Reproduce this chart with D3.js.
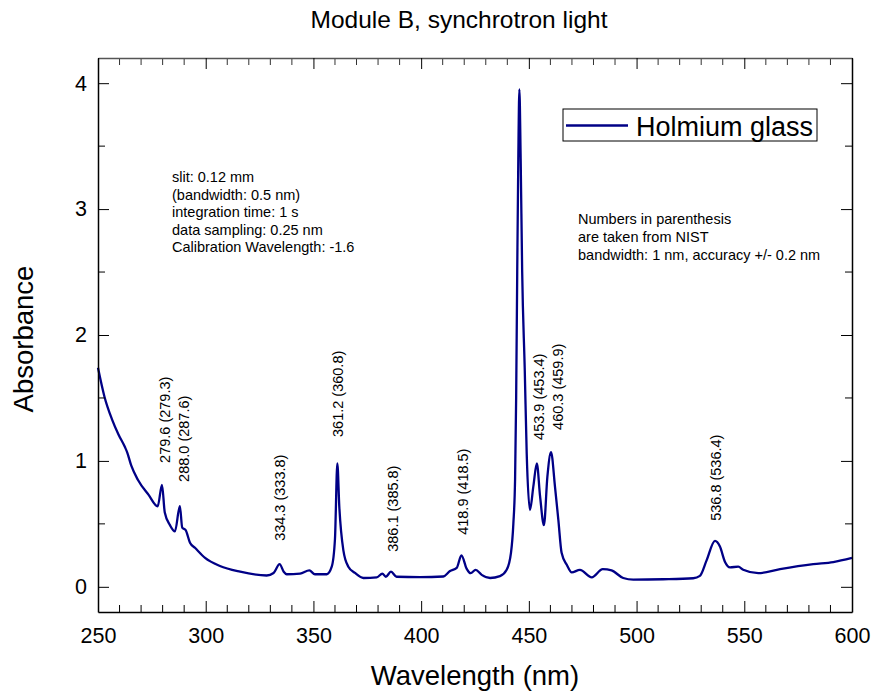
<!DOCTYPE html>
<html>
<head>
<meta charset="utf-8">
<script src="https://cdn.jsdelivr.net/npm/d3@7"></script>
<style>
  body { margin: 0; background: #fff; }
  text { font-family: "Liberation Sans", Arial, sans-serif; }
</style>
</head>
<body>
<script>
// spectrum
var wavelength = [250, 253, 256.5, 259.5, 262.5, 263.5, 265.5, 268.5, 273.5, 277.7,
  279.7, 281, 283.4, 285.7, 288, 289.1, 290.7, 292.7, 295, 299.7,
  306.6, 316, 328.3, 331.5, 334.3, 336.2, 337.6, 343.8, 348.1, 350.7,
  356.2, 358.5, 360, 361.1, 362, 363.9, 366.2, 369.3, 373.2, 379.4,
  382, 383.6, 386, 388.6, 399.5, 410.3, 413.4, 416.5, 418.7, 421.1,
  423, 425.3, 428.1, 432, 436.6, 439.7, 441.7, 442.8, 443.6, 444.1,
  444.6, 445.1, 445.6, 446.2, 446.9, 448.1, 449, 450.5, 452.1, 453.7,
  455.2, 457, 458.6, 460.3, 462.1, 463.7, 465.2, 467.6, 469.9, 473.7,
  479.2, 484.3, 488.4, 493.8, 498.5, 512.4, 526.3, 529.4, 532.5, 536.4,
  538.7, 541, 543.4, 547.2, 549.5, 556.5, 566.6, 582, 591.3, 600];
var absorbance = [1.74, 1.51, 1.33, 1.21, 1.11, 1.07, 0.96, 0.85, 0.73, 0.64,
  0.81, 0.59, 0.49, 0.44, 0.64, 0.47, 0.45, 0.35, 0.31, 0.23,
  0.165, 0.12, 0.09, 0.11, 0.18, 0.12, 0.10, 0.105, 0.13, 0.10,
  0.10, 0.16, 0.38, 0.98, 0.64, 0.29, 0.16, 0.11, 0.07, 0.075,
  0.105, 0.08, 0.12, 0.08, 0.077, 0.082, 0.125, 0.15, 0.25, 0.145,
  0.108, 0.135, 0.095, 0.07, 0.085, 0.135, 0.27, 0.5, 0.85, 1.5,
  2.5, 3.4, 3.95, 3.4, 2.5, 1.72, 1.06, 0.61, 0.80, 0.98,
  0.72, 0.49, 0.875, 1.07, 0.80, 0.53, 0.27, 0.175, 0.114, 0.135,
  0.075, 0.14, 0.13, 0.07, 0.057, 0.06, 0.068, 0.087, 0.21, 0.365,
  0.32, 0.2, 0.155, 0.16, 0.135, 0.108, 0.14, 0.18, 0.197, 0.23];

var xTicks = [250, 300, 350, 400, 450, 500, 550, 600];
var yTicks = [0, 1, 2, 3, 4];

// peak labels: text, anchor wavelength, anchor absorbance (bottom of rotated text)
var peakLabels = ["279.6 (279.3)", "288.0 (287.6)", "334.3 (333.8)", "361.2 (360.8)",
  "386.1 (385.8)", "418.9 (418.5)", "453.9 (453.4)", "460.3 (459.9)", "536.8 (536.4)"];
var peakLabelX = [281.1, 289.9, 334.5, 361.4, 386.9, 419.4, 454.7, 463.5, 536.9];
var peakLabelY = [0.984, 0.833, 0.365, 1.19, 0.278, 0.413, 1.167, 1.246, 0.524];

var infoLines = ["slit: 0.12 mm", "(bandwidth: 0.5 nm)", "integration time: 1 s",
  "data sampling: 0.25 nm", "Calibration Wavelength: -1.6"];
var nistLines = ["Numbers in parenthesis", "are taken from NIST",
  "bandwidth: 1 nm, accuracy +/- 0.2 nm"];

var w = 872, h = 694;
var plotL = 98, plotR = 852, plotT = 58, plotB = 612;
var lineColor = "#000086";

var svg = d3.select("body").append("svg")
  .attr("width", w)
  .attr("height", h);

var x = d3.scaleLinear().domain([250, 600]).range([plotL, plotR]);
var y = d3.scaleLinear().domain([-0.2, 4.2]).range([plotB, plotT]);

var data = wavelength.map(function(d, i) { return [d, absorbance[i]]; });

// curve
var line = d3.line()
  .x(function(d) { return x(d[0]); })
  .y(function(d) { return y(d[1]); })
  .curve(d3.curveMonotoneX);

svg.append("path")
  .datum(data)
  .attr("d", line)
  .attr("fill", "none")
  .attr("stroke", lineColor)
  .attr("stroke-width", 2.3)
  .attr("stroke-linejoin", "round");

// axes: ticks point inward
var xMinor = d3.range(260, 600, 10).filter(function(d) { return d % 50 != 0; });
var yMinor = [0.5, 1.5, 2.5, 3.5];

function fixText(g) {
  g.selectAll("text").attr("font-size", "21.5px").attr("fill", "#000")
    .attr("font-family", "Liberation Sans, Arial, sans-serif");
}

var gBottom = svg.append("g").attr("transform", "translate(0," + plotB + ")");
gBottom.selectAll("line.minor").data(xMinor).enter().append("line")
  .attr("class", "minor")
  .attr("x1", function(d) { return x(d); }).attr("x2", function(d) { return x(d); })
  .attr("y1", 0).attr("y2", -7).attr("stroke", "#000");
gBottom.call(d3.axisBottom(x).tickValues(xTicks).tickSizeInner(-11).tickSizeOuter(0).tickPadding(16))
  .call(function(g) {
    g.select(".domain").attr("stroke", "#000").attr("stroke-width", 1.5);
    fixText(g);
  });

var gTop = svg.append("g").attr("transform", "translate(0," + plotT + ")");
gTop.selectAll("line.minor").data(xMinor).enter().append("line")
  .attr("class", "minor")
  .attr("x1", function(d) { return x(d); }).attr("x2", function(d) { return x(d); })
  .attr("y1", 0).attr("y2", 7).attr("stroke", "#333");
gTop.call(d3.axisTop(x).tickValues(xTicks).tickSizeInner(-11).tickSizeOuter(0).tickFormat(""))
  .call(function(g) { g.select(".domain").attr("stroke", "#555").attr("stroke-width", 1.5); });

var gLeft = svg.append("g").attr("transform", "translate(" + plotL + ",0)");
gLeft.selectAll("line.minor").data(yMinor).enter().append("line")
  .attr("class", "minor")
  .attr("y1", function(d) { return y(d); }).attr("y2", function(d) { return y(d); })
  .attr("x1", 0).attr("x2", 7).attr("stroke", "#000");
gLeft.call(d3.axisLeft(y).tickValues(yTicks).tickFormat(d3.format("d"))
    .tickSizeInner(-11).tickSizeOuter(0).tickPadding(11))
  .call(function(g) {
    g.select(".domain").attr("stroke", "#000").attr("stroke-width", 1.5);
    fixText(g);
  });

var gRight = svg.append("g").attr("transform", "translate(" + plotR + ",0)");
gRight.selectAll("line.minor").data(yMinor).enter().append("line")
  .attr("class", "minor")
  .attr("y1", function(d) { return y(d); }).attr("y2", function(d) { return y(d); })
  .attr("x1", 0).attr("x2", -7).attr("stroke", "#000");
gRight.call(d3.axisRight(y).tickValues(yTicks).tickSizeInner(-11).tickSizeOuter(0).tickFormat(""))
  .call(function(g) { g.select(".domain").attr("stroke", "#000").attr("stroke-width", 1.5); });

// titles
svg.append("text")
  .attr("x", 459).attr("y", 28)
  .attr("text-anchor", "middle")
  .attr("font-size", "24.5px")
  .text("Module B, synchrotron light");

svg.append("text")
  .attr("x", 475).attr("y", 685)
  .attr("text-anchor", "middle")
  .attr("font-size", "27.5px")
  .text("Wavelength (nm)");

svg.append("text")
  .attr("transform", "translate(33,339) rotate(-90)")
  .attr("text-anchor", "middle")
  .attr("font-size", "27.5px")
  .text("Absorbance");

// legend
var legend = svg.append("g");
legend.append("rect")
  .attr("x", 563).attr("y", 109).attr("width", 254).attr("height", 32)
  .attr("fill", "#fff").attr("stroke", "#000").attr("stroke-width", 1);
legend.append("line")
  .attr("x1", 566).attr("x2", 628).attr("y1", 125.5).attr("y2", 125.5)
  .attr("stroke", lineColor).attr("stroke-width", 2.5);
legend.append("text")
  .attr("x", 636).attr("y", 135.5)
  .attr("font-size", "27px")
  .text("Holmium glass");

// info blocks
svg.append("g").selectAll("text")
  .data(infoLines)
  .enter()
  .append("text")
  .attr("x", 172)
  .attr("y", function(d, i) { return 182 + i * 17.5; })
  .attr("font-size", "14.5px")
  .text(function(d) { return d; });

svg.append("g").selectAll("text")
  .data(nistLines)
  .enter()
  .append("text")
  .attr("x", 578)
  .attr("y", function(d, i) { return 224 + i * 18; })
  .attr("font-size", "14.5px")
  .text(function(d) { return d; });

// peak labels
svg.append("g").selectAll("text")
  .data(peakLabels)
  .enter()
  .append("text")
  .attr("transform", function(d, i) {
    return "translate(" + x(peakLabelX[i]) + "," + y(peakLabelY[i]) + ") rotate(-90)";
  })
  .attr("dy", "0.35em")
  .attr("font-size", "14.5px")
  .text(function(d) { return d; });
</script>
</body>
</html>
